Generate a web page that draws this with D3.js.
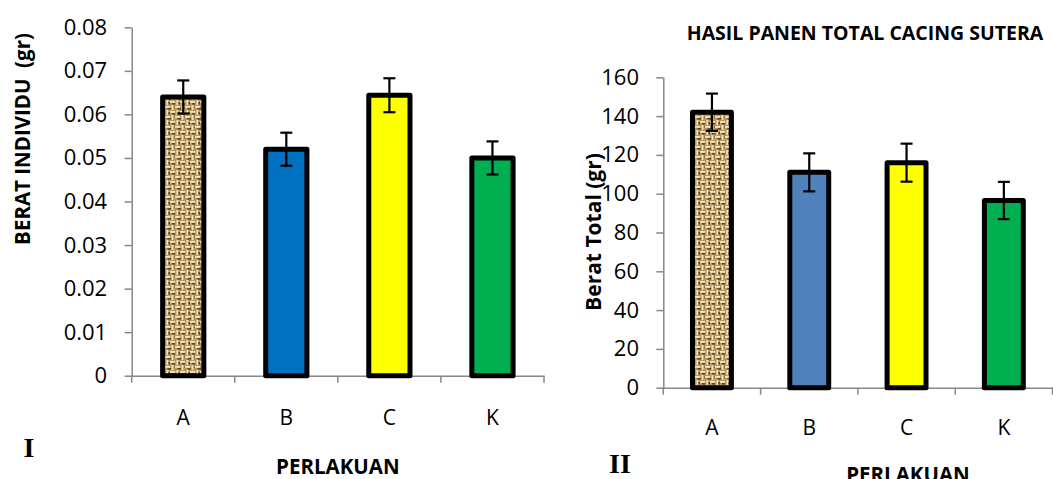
<!DOCTYPE html>
<html>
<head>
<meta charset="utf-8">
<script src="https://cdn.jsdelivr.net/npm/d3@7.9.0/dist/d3.min.js"></script>
<style>
  body { margin: 0; background: #fff; }
  svg { display: block; font-family: "Open Sans", sans-serif; }
</style>
</head>
<body>
<div id="chart"></div>
<script>
const width = 1053;
const height = 479;

// data
const categories = ['A', 'B', 'C', 'K'];

const beratIndividu = [0.064, 0.052, 0.0644, 0.050];
const beratIndividuErr = [0.0038, 0.0038, 0.0039, 0.0038];
const ticksIndividu = [0, 0.01, 0.02, 0.03, 0.04, 0.05, 0.06, 0.07, 0.08];

const beratTotal = [142, 111, 116, 96.5];
const beratTotalErr = [9.6, 9.8, 9.8, 9.6];
const ticksTotal = [0, 20, 40, 60, 80, 100, 120, 140, 160];

const svg = d3.select('#chart')
  .append('svg')
  .attr('viewBox', `0 0 ${width} ${height}`)
  .attr('width', width)
  .attr('height', height);

// burlap texture for bar A
const defs = svg.append('defs');
const pat = defs.append('pattern')
  .attr('id', 'burlap')
  .attr('patternUnits', 'userSpaceOnUse')
  .attr('width', 10).attr('height', 10);
pat.append('rect').attr('width', 10).attr('height', 10).attr('fill', '#b7965c');
const light = '#f3e6c3', dark = '#5f4520';
[[0, 1, 5, 1.8, light], [5, 6, 5, 1.8, light], [6.5, 0, 1.8, 5, light], [1.5, 5, 1.8, 5, light],
 [2, 3, 3, 1.6, dark], [7.5, 8, 2.5, 1.6, dark], [8.4, 2, 1.6, 2.5, dark], [0, 8, 1.2, 1.6, dark],
 [4, 6.5, 1, 1, dark]]
  .forEach(([x, y, w, h, c]) => pat.append('rect')
    .attr('x', x).attr('y', y).attr('width', w).attr('height', h).attr('fill', c));

const axisColor = '#878787';

function drawChart(opt) {
  const x = d3.scaleBand().domain(categories).range(opt.xRange);
  const y = d3.scaleLinear().domain(opt.yDomain).range(opt.yRange);
  const color = d3.scaleOrdinal(categories, opt.fills);
  const g = svg.append('g');

  // y axis
  const ya = g.append('g')
    .attr('transform', `translate(${opt.xRange[0]},0)`)
    .call(d3.axisLeft(y).tickValues(opt.ticks).tickFormat(opt.fmt)
      .tickSize(7).tickSizeOuter(0).tickPadding(opt.yPad));
  ya.selectAll('path, line').attr('stroke', axisColor).attr('stroke-width', 1.5);
  ya.selectAll('text').attr('font-size', 22).attr('fill', '#000')
    .attr('font-family', '"Open Sans", sans-serif');

  // x axis (labels)
  const xa = g.append('g')
    .attr('transform', `translate(0,${opt.yRange[0]})`)
    .call(d3.axisBottom(x).tickSize(0).tickPadding(opt.xPad));
  xa.select('path').attr('stroke', axisColor).attr('stroke-width', 1.5);
  xa.selectAll('text').attr('font-size', 21).attr('fill', '#000')
    .attr('font-family', '"Open Sans", sans-serif');

  // category boundary ticks
  const bounds = categories.map(c => x(c)).concat([opt.xRange[1]]);
  g.selectAll('.bt').data(bounds).join('line')
    .attr('x1', d => d).attr('x2', d => d)
    .attr('y1', opt.yRange[0]).attr('y2', opt.yRange[0] + 7)
    .attr('stroke', axisColor).attr('stroke-width', 1.5);

  const bw = x.bandwidth() * 0.4;
  const rows = categories.map((c, i) => ({ c, v: opt.values[i], e: opt.errs[i] }));

  g.selectAll('.bar').data(rows).join('rect')
    .attr('x', d => x(d.c) + (x.bandwidth() - bw) / 2)
    .attr('width', bw)
    .attr('y', d => y(d.v))
    .attr('height', d => y(0) - y(d.v))
    .attr('fill', d => color(d.c))
    .attr('stroke', '#000')
    .attr('stroke-width', 5)
    .attr('stroke-linejoin', 'round');

  const eb = g.selectAll('.err').data(rows).join('g')
    .attr('transform', d => `translate(${x(d.c) + x.bandwidth() / 2},0)`)
    .attr('stroke', '#000').attr('stroke-width', 2.2);
  eb.append('line').attr('y1', d => y(d.v + d.e)).attr('y2', d => y(d.v - d.e));
  eb.append('line').attr('x1', -6).attr('x2', 6).attr('y1', d => y(d.v + d.e)).attr('y2', d => y(d.v + d.e));
  eb.append('line').attr('x1', -6).attr('x2', 6).attr('y1', d => y(d.v - d.e)).attr('y2', d => y(d.v - d.e));

  return { x, y };
}

drawChart({
  xRange: [131.7, 544],
  yRange: [375.7, 27.3],
  yDomain: [0, 0.08],
  ticks: ticksIndividu,
  fmt: d => d === 0 ? '0' : d3.format('.2f')(d),
  yPad: 17.5,
  xPad: 34,
  values: beratIndividu,
  errs: beratIndividuErr,
  fills: ['url(#burlap)', '#0070c0', '#ffff00', '#00b050']
});

drawChart({
  xRange: [663.3, 1052.5],
  yRange: [387.7, 77.3],
  yDomain: [0, 160],
  ticks: ticksTotal,
  fmt: d3.format('d'),
  yPad: 17.3,
  xPad: 32,
  values: beratTotal,
  errs: beratTotalErr,
  fills: ['url(#burlap)', '#4f81bd', '#ffff00', '#00b050']
});

// titles and labels
const bold = (t, x, y, size, rot) => {
  const el = svg.append('text')
    .attr('font-weight', 'bold')
    .attr('font-size', size)
    .attr('text-anchor', 'middle')
    .attr('fill', '#000')
    .text(t);
  if (rot) el.attr('transform', `translate(${x},${y}) rotate(-90)`);
  else el.attr('x', x).attr('y', y);
  return el;
};

bold('BERAT INDIVIDU\u00a0\u00a0(gr)', 30, 139, 20.5, true);
bold('PERLAKUAN', 337.8, 474, 20.5);
bold('HASIL PANEN TOTAL CACING SUTERA', 865, 40, 19.5);
bold('Berat Total (gr)', 601, 232, 21, true);
bold('PERLAKUAN', 908, 482, 20.5);

svg.append('text').attr('x', 29).attr('y', 457)
  .attr('text-anchor', 'middle')
  .attr('font-family', '"Liberation Serif", serif')
  .attr('font-weight', 'bold').attr('font-size', 28).text('I');
svg.append('text').attr('x', 620).attr('y', 473)
  .attr('text-anchor', 'middle')
  .attr('font-family', '"Liberation Serif", serif')
  .attr('font-weight', 'bold').attr('font-size', 28).text('II');
</script>
</body>
</html>
